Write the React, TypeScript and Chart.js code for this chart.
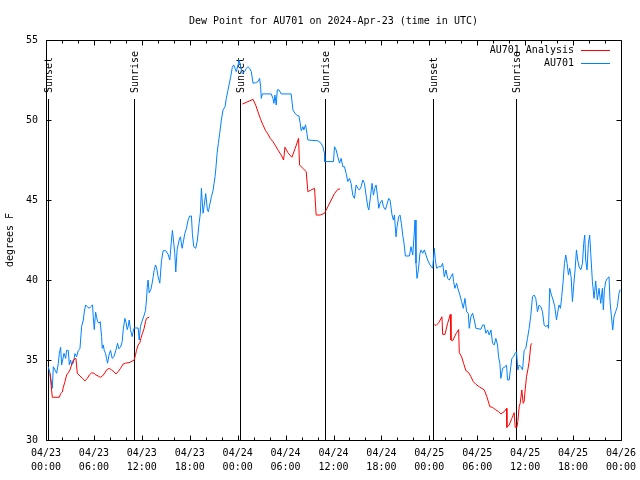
import React, { useEffect, useRef } from 'react';
import { Chart, registerables } from 'chart.js';

Chart.register(...registerables);

const FONT = '"DejaVu Sans Mono", monospace';
const TITLE = 'Dew Point for AU701 on 2024-Apr-23 (time in UTC)';
const Y_TITLE = 'degrees F';

// hours since 04/23 00:00 UTC, dew point (F)
const blueObs: [number, number][] = [
  [0.29,34.58],[0.5,34.17],[0.79,33.23],[0.92,34.58],[1.125,34.38],[1.33,34.17],[1.54,34.79],[1.67,35.42],[1.83,35.79],[1.96,34.69],
  [2.08,35.0],[2.25,35.42],[2.46,35.1],[2.58,35.6],[2.79,35.6],[2.92,34.7],[3.08,35.0],[3.21,34.7],[3.42,34.8],[3.625,35.4],
  [3.83,35.2],[4.04,35.6],[4.25,35.7],[4.46,37.08],[4.67,37.5],[4.79,38.0],[4.96,38.44],[5.17,38.33],[5.42,38.23],[5.58,38.33],
  [5.83,38.44],[5.92,37.7],[6.04,36.9],[6.21,38.0],[6.33,37.7],[6.46,37.4],[6.625,37.3],[6.79,37.4],[6.96,36.46],[7.04,35.73],
  [7.17,35.94],[7.29,35.6],[7.46,35.4],[7.58,35.1],[7.71,34.8],[7.875,35.3],[8.08,35.6],[8.29,35.1],[8.5,35.2],[8.75,35.6],
  [8.96,36.04],[9.125,35.7],[9.33,35.8],[9.54,36.15],[9.67,36.9],[9.875,37.6],[10.0,37.4],[10.17,36.9],[10.29,37.1],[10.42,37.5],
  [10.58,36.9],[10.79,36.46],[10.92,36.8],[11.04,37.0],[11.54,37.0],[11.67,36.25],[11.83,37.1],[12.08,37.5],[12.29,37.8],[12.46,38.1],
  [12.58,38.75],[12.71,39.79],[12.79,40.0],[12.92,39.2],[13.125,39.4],[13.29,39.8],[13.42,40.2],[13.54,40.6],[13.71,40.94],[13.83,40.8],
  [14.04,40.2],[14.25,39.8],[14.46,41.2],[14.67,41.83],[15.0,41.83],[15.29,41.6],[15.5,41.25],[15.71,42.5],[15.83,43.1],[16.0,42.3],
  [16.125,41.67],[16.25,40.5],[16.42,41.9],[16.67,42.5],[16.83,42.7],[17.04,41.98],[17.17,42.3],[17.375,42.9],[17.58,43.2],[17.79,43.75],
  [18.0,44.0],[18.21,44.0],[18.33,42.9],[18.5,42.08],[18.75,41.98],[18.96,42.5],[19.17,43.54],[19.33,44.17],[19.46,45.73],[19.58,44.8],
  [19.67,44.17],[19.79,44.58],[20.0,45.4],[20.08,45.0],[20.21,44.38],[20.33,44.27],[20.5,44.69],[20.71,45.2],[20.92,45.6],[21.04,46.04],
  [21.17,46.46],[21.29,47.08],[21.42,47.9],[21.58,48.54],[21.75,49.17],[21.96,50.0],[22.17,50.63],[22.42,50.83],[22.58,51.35],[22.75,51.77],
  [22.92,52.19],[23.125,52.7],[23.33,53.29],[23.5,53.44],[23.67,53.23],[23.83,53.02],[24.04,53.44],[24.17,53.75],[24.33,53.44],[24.58,52.9],
  [24.875,53.02],[25.08,53.23],[25.29,53.33],[25.5,53.23],[25.71,53.02],[25.92,52.3],[26.25,52.33],[26.54,52.4],[26.75,52.6],[26.875,52.08],
  [26.96,51.35],[27.08,51.63],[28.2,51.63],[28.42,51.35],[28.54,51.04],[28.67,51.56],[28.83,50.94],[28.96,51.88],[29.17,51.88],[29.46,51.63],
  [30.7,51.63],[30.92,50.63],[31.2,50.4],[31.42,50.3],[31.67,50.25],[31.83,49.8],[31.96,49.33],[32.17,49.58],[32.29,49.38],[32.5,49.7],
  [32.67,49.17],[32.79,48.75],[34.04,48.7],[34.46,48.54],[34.67,48.33],[34.875,47.9],[34.9,47.4],[36.0,47.4],[36.125,48.33],[36.33,48.13],
  [36.54,47.7],[36.75,47.3],[36.96,47.6],[37.17,47.08],[37.375,47.08],[37.58,46.67],[37.79,46.15],[38.0,46.35],[38.2,46.04],[38.42,45.3],
  [38.625,45.1],[38.83,45.94],[39.04,45.73],[39.25,45.63],[39.46,45.83],[39.67,46.25],[39.875,46.04],[40.08,45.3],[40.29,44.58],[40.42,44.38],
  [40.58,45.0],[40.83,46.04],[41.0,45.3],[41.17,45.73],[41.33,45.94],[41.5,45.3],[41.67,44.48],[41.83,44.8],[42.08,44.98],[42.25,44.58],
  [42.5,44.4],[42.67,44.69],[42.92,45.1],[43.08,45.0],[43.33,44.06],[43.5,43.75],[43.625,44.06],[43.83,42.7],[43.96,43.33],[44.17,43.96],
  [44.33,44.06],[44.5,43.54],[44.67,42.8],[44.83,42.3],[45.0,41.5],[45.5,41.5],[45.71,42.08],[45.92,41.56],[46.08,42.7],[46.21,43.75],
  [46.33,41.04],[46.46,40.1],[46.625,40.63],[46.83,41.67],[46.96,41.88],[47.17,41.67],[47.375,41.88],[47.58,41.56],[47.79,41.25],[48.08,40.94],
  [48.42,40.73],[48.625,41.98],[48.75,41.25],[48.92,40.73],[49.17,40.83],[49.46,40.83],[49.67,41.04],[49.875,40.2],[50.08,40.63],[50.29,40.1],
  [50.5,40.0],[50.71,40.2],[50.92,40.4],[51.04,39.9],[51.2,39.48],[51.42,39.79],[51.625,39.38],[51.83,39.06],[52.04,38.65],[52.25,38.23],
  [52.46,38.85],[52.67,38.02],[52.875,37.92],[53.0,36.98],[53.2,37.7],[53.42,37.92],[53.625,37.5],[53.83,36.98],[54.46,36.92],[54.67,37.19],
  [54.875,37.19],[55.08,36.67],[55.29,36.88],[55.5,36.56],[55.71,36.88],[55.92,36.04],[56.125,35.94],[56.33,36.35],[56.54,35.94],[56.67,35.2],
  [56.83,34.79],[56.96,33.85],[57.17,34.48],[57.5,34.58],[57.67,34.69],[57.79,33.75],[58.0,33.75],[58.2,34.58],[58.33,35.1],[58.54,35.2],
  [58.75,35.42],[58.92,35.52],[59.08,34.38],[59.25,34.69],[59.46,34.58],[59.67,34.38],[59.875,35.6],[60.08,35.73],[60.29,36.35],[60.5,36.98],
  [60.71,37.8],[60.92,38.96],[61.125,39.06],[61.33,38.85],[61.54,38.02],[61.75,38.44],[61.96,38.33],[62.17,38.02],[62.375,37.19],[62.58,37.08],
  [62.79,37.19],[62.92,36.98],[63.08,39.48],[63.29,39.06],[63.5,38.75],[63.71,38.33],[63.92,37.5],[64.125,38.13],[64.25,38.44],[64.42,38.23],
  [64.58,38.96],[64.75,39.9],[64.92,41.04],[65.08,41.56],[65.25,41.04],[65.42,40.31],[65.58,40.73],[65.75,40.2],[65.92,38.65],[66.08,39.69],
  [66.25,40.63],[66.42,41.88],[66.58,41.25],[66.75,40.83],[66.96,40.63],[67.17,41.04],[67.33,42.29],[67.46,42.81],[67.58,41.25],[67.75,40.63],
  [67.92,42.29],[68.08,42.81],[68.21,41.67],[68.42,39.9],[68.625,38.85],[68.83,39.94],[69.04,38.75],[69.25,39.48],[69.46,38.54],[69.67,39.48],
  [69.79,38.13],[69.92,39.38],[70.08,39.9],[70.29,40.1],[70.5,40.2],[70.625,38.65],[70.79,37.8],[70.96,36.88],[71.125,37.7],[71.33,38.02],
  [71.54,38.33],[71.75,39.17],[71.9,39.4],
];

const redAnalysis: [number, number | null][] = [
  [0.5,34.17],[0.79,32.67],[1.67,32.67],[1.83,32.9],[2.04,33.0],[2.17,33.3],[2.375,33.65],[2.58,34.06],[2.79,34.2],[3.0,34.38],
  [3.21,34.7],[3.42,35.0],[3.75,35.1],[3.92,34.17],[4.25,34.0],[4.58,33.85],[4.875,33.69],[5.17,33.85],[5.42,34.06],[5.71,34.2],
  [6.0,34.17],[6.25,34.06],[6.54,34.0],[6.83,33.92],[7.08,34.0],[7.375,34.2],[7.58,34.38],[7.92,34.48],[8.2,34.38],[8.5,34.27],
  [8.75,34.13],[9.04,34.27],[9.33,34.48],[9.67,34.75],[9.96,34.8],[10.5,34.85],[11.04,35.0],[11.2,35.3],[11.33,35.6],[11.54,35.94],
  [11.75,36.08],[11.875,36.35],[12.08,36.67],[12.29,36.98],[12.46,37.4],[12.58,37.6],[12.92,37.67],
  [18,null],
  [24.6,51.0],[25.29,51.15],[25.92,51.29],[26.25,50.94],[26.54,50.52],[26.875,50.04],[27.17,49.69],[27.5,49.33],[27.79,49.13],[28.08,48.85],
  [28.42,48.65],[28.75,48.38],[29.04,48.13],[29.46,47.8],[29.75,47.5],[29.92,48.3],[30.29,47.96],[30.79,47.67],[31.2,48.23],[31.625,48.85],
  [31.75,47.19],[32.17,46.98],[32.58,46.77],[32.79,45.52],[33.2,45.63],[33.625,45.73],[33.83,44.06],[34.33,44.06],[34.875,44.17],[35.29,44.58],
  [35.71,45.0],[36.125,45.4],[36.54,45.67],[36.83,45.69],
  [42,null],
  [48.625,37.23],[48.83,37.15],[49.17,37.33],[49.58,37.7],[49.67,36.6],[49.96,36.6],[50.29,37.29],[50.625,37.85],[50.71,36.25],[50.92,36.2],
  [51.33,36.63],[51.67,36.9],[51.75,35.46],[52.04,35.2],[52.29,34.79],[52.58,34.33],[52.92,34.21],[53.21,33.96],[53.5,33.65],[53.83,33.48],
  [54.25,33.33],[54.875,33.13],[55.2,32.71],[55.58,32.08],[55.92,32.04],[56.33,31.88],[56.67,31.77],[56.96,31.63],[57.375,31.77],[57.67,31.98],
  [57.71,30.79],[58.0,30.94],[58.33,31.35],[58.625,31.71],[58.75,30.79],[58.96,30.79],[59.08,31.15],[59.25,32.08],[59.375,32.29],[59.58,33.13],
  [59.75,32.29],[59.875,32.4],[60.0,33.13],[60.17,33.96],[60.33,34.38],[60.5,34.9],[60.71,35.94],[60.83,36.04],
];

const xTickLabels: string[][] = [
  ['04/23','00:00'],['04/23','06:00'],['04/23','12:00'],['04/23','18:00'],
  ['04/24','00:00'],['04/24','06:00'],['04/24','12:00'],['04/24','18:00'],
  ['04/25','00:00'],['04/25','06:00'],['04/25','12:00'],['04/25','18:00'],
  ['04/26','00:00'],
];
const yTicks = [30, 35, 40, 45, 50, 55];

const sunHours = [0.25, 11.0, 24.25, 34.9, 48.4, 58.9];
const sunLabels = ['Sunset', 'Sunrise', 'Sunset', 'Sunrise', 'Sunset', 'Sunrise'];

const seriesNames = ['AU701 Analysis', 'AU701'];
const seriesColors = ['#ff0000', '#0080ff'];

const gnuPlugin = {
  id: 'gnuDecor',
  beforeDatasetsDraw(chart: any) {
    const { ctx, chartArea: a, scales } = chart;
    const x = scales.x;
    ctx.save();
    ctx.strokeStyle = '#000';
    ctx.lineWidth = 1;
    ctx.fillStyle = '#000';
    ctx.font = `10px ${FONT}`;
    sunHours.forEach((h, i) => {
      const px = Math.round(x.getPixelForValue(h)) + 0.5;
      ctx.beginPath();
      ctx.moveTo(px, 99);
      ctx.lineTo(px, a.bottom);
      ctx.stroke();
      ctx.save();
      ctx.translate(px + 1, 93);
      ctx.rotate(-Math.PI / 2);
      ctx.textAlign = 'left';
      ctx.textBaseline = 'middle';
      ctx.fillText(sunLabels[i], 0, 0);
      ctx.restore();
    });
    ctx.restore();
  },
  afterDraw(chart: any) {
    const { ctx, chartArea: a, scales } = chart;
    const x = scales.x;
    const y = scales.y;
    ctx.save();
    ctx.strokeStyle = '#000';
    ctx.lineWidth = 1;
    const L = Math.round(a.left) + 0.5;
    const R = Math.round(a.right) + 0.5;
    const T = Math.round(a.top) + 0.5;
    const B = Math.round(a.bottom) + 0.5;
    ctx.beginPath();
    ctx.rect(L, T, R - L, B - T);
    for (let h = 0; h <= 72; h += 2) {
      const px = Math.round(x.getPixelForValue(h)) + 0.5;
      const len = h % 6 === 0 ? 5 : 3;
      ctx.moveTo(px, B); ctx.lineTo(px, B - len);
      ctx.moveTo(px, T); ctx.lineTo(px, T + len);
    }
    yTicks.forEach((v) => {
      const py = Math.round(y.getPixelForValue(v)) + 0.5;
      ctx.moveTo(L, py); ctx.lineTo(L + 5, py);
      ctx.moveTo(R, py); ctx.lineTo(R - 5, py);
    });
    ctx.stroke();

    // legend
    ctx.font = `10px ${FONT}`;
    ctx.textAlign = 'right';
    ctx.textBaseline = 'middle';
    const rows = [50, 63];
    chart.data.datasets.forEach((ds: any, i: number) => {
      const ry = rows[i];
      ctx.fillStyle = '#000';
      ctx.fillText(ds.label, 574, ry);
      ctx.strokeStyle = ds.borderColor;
      ctx.beginPath();
      ctx.moveTo(581, ry + 0.5);
      ctx.lineTo(610, ry + 0.5);
      ctx.stroke();
    });
    ctx.restore();
  },
};

export default function App() {
  const ref = useRef<HTMLCanvasElement>(null);
  useEffect(() => {
    if (!ref.current) return;
    const chart = new Chart(ref.current, {
      type: 'line',
      data: {
        datasets: [
          {
            label: seriesNames[0],
            data: redAnalysis.map(([h, v]) => ({ x: h, y: v })),
            borderColor: seriesColors[0],
            backgroundColor: seriesColors[0],
            borderWidth: 1,
            pointRadius: 0,
            tension: 0,
            spanGaps: false,
          },
          {
            label: seriesNames[1],
            data: blueObs.map(([h, v]) => ({ x: h, y: v })),
            borderColor: seriesColors[1],
            backgroundColor: seriesColors[1],
            borderWidth: 1,
            pointRadius: 0,
            tension: 0,
          },
        ],
      },
      options: {
        responsive: false,
        animation: false,
        devicePixelRatio: 1,
        layout: { padding: { left: 0, right: 19, top: 0, bottom: 0 } },
        plugins: {
          legend: { display: false },
          tooltip: { enabled: false },
          title: {
            display: true,
            text: TITLE,
            fullSize: false,
            color: '#000',
            font: { family: FONT, size: 10, weight: 'normal' as any, lineHeight: 1.2 },
            padding: { top: 15, bottom: 13 },
          },
        },
        scales: {
          x: {
            type: 'linear',
            min: 0,
            max: 72,
            afterFit: (s: any) => { s.height = 40; s.paddingLeft = 0; s.paddingRight = 0; },
            grid: { display: false, drawTicks: false },
            border: { display: false },
            ticks: {
              stepSize: 6,
              autoSkip: false,
              maxRotation: 0,
              minRotation: 0,
              padding: 6,
              color: '#000',
              font: { family: FONT, size: 10, lineHeight: 1.4 },
              callback: (v: any) => xTickLabels[Math.round(Number(v) / 6)] ?? '',
            },
          },
          y: {
            type: 'linear',
            min: 30,
            max: 55,
            afterFit: (s: any) => { s.width = 46; s.paddingTop = 0; s.paddingBottom = 0; },
            grid: { display: false, drawTicks: false },
            border: { display: false },
            ticks: {
              stepSize: 5,
              padding: 8,
              color: '#000',
              font: { family: FONT, size: 10 },
            },
            title: {
              display: true,
              text: Y_TITLE,
              color: '#000',
              font: { family: FONT, size: 10, lineHeight: 1.2 },
              padding: { top: 4, bottom: 0 },
            },
          },
        },
      },
      plugins: [gnuPlugin],
    });
    return () => chart.destroy();
  }, []);
  return (
    <div style={{ position: 'fixed', left: 0, top: 0, width: 640, height: 480, background: '#fff' }}>
      <canvas ref={ref} width={640} height={480} style={{ display: 'block' }} />
    </div>
  );
}
